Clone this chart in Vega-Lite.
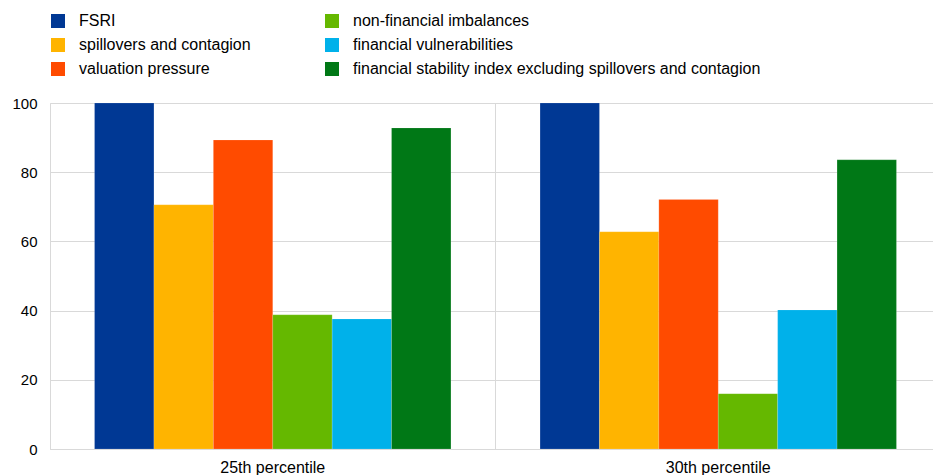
{
  "$schema": "https://vega.github.io/schema/vega-lite/v6.json",
  "autosize": "none",
  "width": 883,
  "height": 346,
  "padding": {"left": 50, "top": 103, "right": 0, "bottom": 26},
  "background": "white",
  "config": {
    "font": "Liberation Sans",
    "view": {"stroke": null},
    "axis": {"labelFont": "Liberation Sans", "labelColor": "#000000", "labelFontSize": 15, "gridColor": "#d9d9d9", "domainColor": "#d9d9d9", "ticks": false, "title": null}
  },
  "data": {
    "values": [
      {"p": "25th percentile", "s": "FSRI", "v": 100},
      {"p": "25th percentile", "s": "spillovers and contagion", "v": 70.6},
      {"p": "25th percentile", "s": "valuation pressure", "v": 89.3},
      {"p": "25th percentile", "s": "non-financial imbalances", "v": 38.8},
      {"p": "25th percentile", "s": "financial vulnerabilities", "v": 37.6},
      {"p": "25th percentile", "s": "financial stability index excluding spillovers and contagion", "v": 92.8},
      {"p": "30th percentile", "s": "FSRI", "v": 100},
      {"p": "30th percentile", "s": "spillovers and contagion", "v": 62.8},
      {"p": "30th percentile", "s": "valuation pressure", "v": 72.1},
      {"p": "30th percentile", "s": "non-financial imbalances", "v": 16.0},
      {"p": "30th percentile", "s": "financial vulnerabilities", "v": 40.2},
      {"p": "30th percentile", "s": "financial stability index excluding spillovers and contagion", "v": 83.6}
    ]
  },
  "mark": {"type": "bar", "stroke": "white", "strokeOpacity": 0.3, "strokeWidth": 0.5},
  "encoding": {
    "x": {
      "field": "p", "type": "nominal",
      "scale": {"paddingInner": 0, "paddingOuter": 0, "range": [0, 891]},
      "axis": {"labelAngle": 0, "labelPadding": 10, "labelFontSize": 16, "grid": true, "bandPosition": 0, "domain": true}
    },
    "xOffset": {
      "field": "s", "type": "nominal",
      "sort": ["FSRI", "spillovers and contagion", "valuation pressure", "non-financial imbalances", "financial vulnerabilities", "financial stability index excluding spillovers and contagion"],
      "scale": {"paddingInner": 0, "paddingOuter": 0.75}
    },
    "y": {
      "field": "v", "type": "quantitative",
      "scale": {"domain": [0, 100], "nice": false},
      "axis": {"values": [0, 20, 40, 60, 80, 100], "labelPadding": 13, "grid": true, "domain": true}
    },
    "color": {
      "field": "s", "type": "nominal",
      "scale": {
        "domain": ["FSRI", "non-financial imbalances", "spillovers and contagion", "financial vulnerabilities", "valuation pressure", "financial stability index excluding spillovers and contagion"],
        "range": ["#003894", "#65b800", "#ffb400", "#00b1ea", "#ff4b00", "#007816"]
      },
      "legend": {
        "title": null,
        "orient": "none",
        "legendX": 0,
        "legendY": -90,
        "columns": 2,
        "direction": "horizontal",
        "symbolType": "square",
        "symbolSize": 196,
        "symbolStrokeWidth": 0,
        "symbolOpacity": 1,
        "labelFont": "Liberation Sans",
        "labelFontSize": 16,
        "labelColor": "#000000",
        "labelOffset": 13,
        "labelLimit": 500,
        "rowPadding": 8,
        "columnPadding": 73
      }
    }
  }
}
